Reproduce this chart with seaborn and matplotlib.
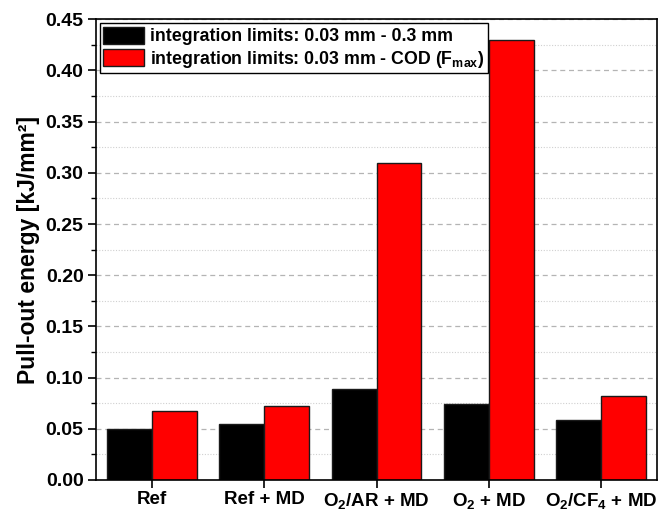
import matplotlib
matplotlib.use("Agg")
import matplotlib.pyplot as plt
from matplotlib.ticker import MultipleLocator, FormatStrFormatter
import seaborn as sns
import pandas as pd

categories = ["Ref", "Ref + MD", "O$_2$/AR + MD", "O$_2$ + MD", "O$_2$/CF$_4$ + MD"]
series_names = ["integration limits: 0.03 mm - 0.3 mm",
                "integration limits: 0.03 mm - COD (F$_{max}$)"]
limit_03mm = [0.050, 0.055, 0.089, 0.074, 0.059]
limit_cod = [0.067, 0.072, 0.310, 0.430, 0.082]
colors = ["#000000", "#ff0000"]

df = pd.DataFrame({
    "group": categories * 2,
    "series": [series_names[0]] * len(categories) + [series_names[1]] * len(categories),
    "energy": limit_03mm + limit_cod,
})

sns.set_theme(style="white")
plt.rcParams["font.family"] = ["Liberation Sans", "DejaVu Sans"]
plt.rcParams["font.weight"] = "bold"
plt.rcParams["text.color"] = "black"
plt.rcParams["axes.labelcolor"] = "black"
plt.rcParams["xtick.color"] = "black"
plt.rcParams["ytick.color"] = "black"
plt.rcParams["mathtext.fontset"] = "custom"
plt.rcParams["mathtext.rm"] = "Liberation Sans:bold"
plt.rcParams["mathtext.it"] = "Liberation Sans:bold"
plt.rcParams["mathtext.bf"] = "Liberation Sans:bold"
plt.rcParams["mathtext.default"] = "rm"

fig, ax = plt.subplots(figsize=(6.59, 5.15), dpi=100)
fig.subplots_adjust(left=0.1457, right=0.997, top=0.9625, bottom=0.068)

sns.barplot(data=df, x="group", y="energy", hue="series", order=categories,
            hue_order=series_names, palette=colors, width=0.8, gap=0,
            edgecolor="#1a1a1a", linewidth=1.0, saturation=1, ax=ax)

ax.set_xlim(-0.5, 4.5)
ax.set_ylim(0, 0.45)
ax.yaxis.set_major_locator(MultipleLocator(0.05))
ax.yaxis.set_minor_locator(MultipleLocator(0.025))
ax.yaxis.set_major_formatter(FormatStrFormatter("%.2f"))

ax.set_axisbelow(True)
ax.grid(axis="y", which="major", linestyle=(0, (4, 3)), color="#b4b4b4", linewidth=0.9)
ax.grid(axis="y", which="minor", linestyle=(0, (1, 1.5)), color="#d0d0d0", linewidth=0.8)

for s in ax.spines.values():
    s.set_color("black")
    s.set_linewidth(1.2)

ax.tick_params(axis="y", which="major", direction="out", length=6, width=1.2,
               left=True, labelsize=14, colors="black", pad=3)
ax.tick_params(axis="y", which="minor", direction="out", length=3.5, width=1.0,
               left=True, colors="black")
ax.tick_params(axis="x", which="major", direction="out", length=6, width=1.2,
               bottom=True, labelsize=13.5, colors="black", pad=2)
for lbl in ax.get_xticklabels() + ax.get_yticklabels():
    lbl.set_fontweight("bold")

ax.set_xlabel("")
ax.set_ylabel("Pull-out energy [kJ/mm²]", fontsize=16.5, fontweight="bold",
              color="black", labelpad=4)

leg = ax.legend(loc="upper left", bbox_to_anchor=(0.0, 1.0), frameon=True,
                fancybox=False, edgecolor="black", framealpha=1,
                prop={"weight": "bold", "size": 12.8}, handlelength=2.3,
                handleheight=1.1, handletextpad=0.3, borderpad=0.2,
                labelspacing=0.2, borderaxespad=0.22)
leg.get_frame().set_linewidth(1.0)
for t in leg.get_texts():
    t.set_color("black")
for h in leg.legend_handles:
    h.set_edgecolor("#1a1a1a")
    h.set_linewidth(1.0)

fig.savefig("out.png", dpi=100)
